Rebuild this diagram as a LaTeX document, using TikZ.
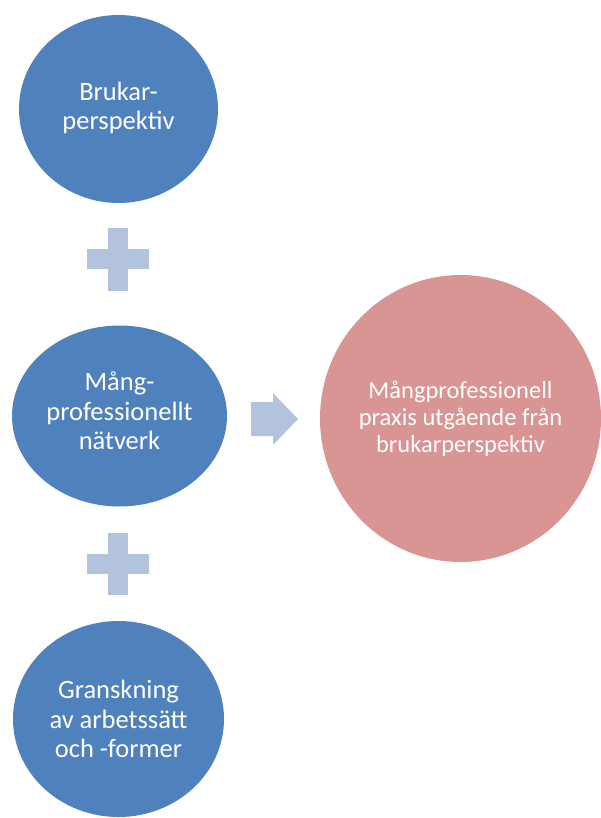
\documentclass[tikz,border=0pt]{standalone}
\usepackage{fontspec}
\setmainfont{Carlito}
\usetikzlibrary{shapes.geometric}
\definecolor{bluefill}{HTML}{4F81BD}
\definecolor{lightblue}{HTML}{B3C3DE}
\definecolor{pinkfill}{HTML}{D99594}
\tikzset{
  bubble/.style={ellipse, fill=bluefill, draw=none, inner sep=0pt},
  bigbubble/.style={ellipse, fill=pinkfill, draw=none, inner sep=0pt},
  bluetext/.style={text=white, align=center, inner sep=0pt,
     font=\fontsize{26.5}{29.5}\selectfont},
  pinktext/.style={text=white, align=center, inner sep=0pt,
     font=\fontsize{24.5}{27}\selectfont},
  plusmark/.style={fill=lightblue, draw=none},
}
\begin{document}
\begin{tikzpicture}[x=1pt,y=-1pt]
\useasboundingbox (0,0) rectangle (601,818);
\node[bubble, minimum width=199pt, minimum height=188pt] (a) at (118.5,109) {};
\node[bluetext] (at) at ([yshift=1pt]a.center) {Brukar-\\perspektiv};
\node[bubble, minimum width=215pt, minimum height=181pt] (b) at (119.5,416) {};
\node[bluetext] (bt) at ([yshift=5pt]b.center) {Mång-\\professionellt\\nätverk};
\node[bubble, minimum width=211pt, minimum height=196pt] (c) at (118.5,719) {};
\node[bluetext] (ct) at (c.center) {Granskning\\av arbetssätt\\och -former};
\node[bigbubble, minimum width=281pt, minimum height=287pt] (d) at (460.5,418.5) {};
\node[pinktext] (dt) at (d.center) {Mångprofessionell\\praxis utgående från\\brukarperspektiv};
% plus signs
\fill[plusmark] (108,228) rectangle (128,291);
\fill[plusmark] (87,249) rectangle (149,269);
\fill[plusmark] (108,533) rectangle (128,595);
\fill[plusmark] (87,554) rectangle (149,574);
% arrow
\fill[plusmark] (251,402) -- (273,402) -- (273,393) -- (298,419) -- (273,445) -- (273,436) -- (251,436) -- cycle;
\end{tikzpicture}
\end{document}
